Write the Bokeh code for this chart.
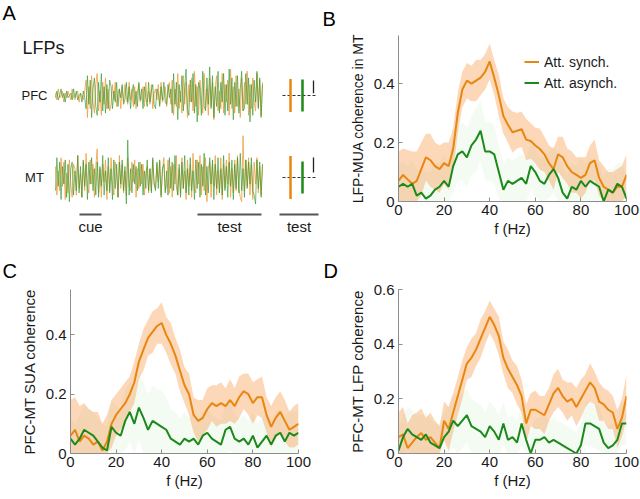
import numpy as np
from bokeh.plotting import figure
from bokeh.layouts import column, row
from bokeh.models import (Range1d, Label, Legend, LegendItem, FixedTicker,
                          CustomJSTickFormatter, Title)
from bokeh.embed import file_html
from bokeh.resources import INLINE

# ---------------- data ----------------
FREQ = list(range(0, 101, 2))

# Panel B: LFP-MUA coherence in MT
B_SYNC = [0.07, 0.09, 0.075, 0.06, 0.07, 0.11, 0.15, 0.14, 0.12, 0.11,
          0.13, 0.12, 0.18, 0.30, 0.38, 0.41, 0.40, 0.41, 0.42, 0.44,
          0.475, 0.42, 0.36, 0.29, 0.26, 0.235, 0.24, 0.245, 0.21, 0.205,
          0.19, 0.178, 0.16, 0.13, 0.11, 0.16, 0.15, 0.12, 0.10, 0.09,
          0.08, 0.09, 0.13, 0.14, 0.08, 0.05, 0.04, 0.03, 0.05, 0.05,
          0.09]
B_ASYNC = [0.05, 0.06, 0.05, 0.06, 0.02, 0.03, 0.01, 0.02, 0.04, 0.05,
           0.07, 0.05, 0.12, 0.16, 0.17, 0.15, 0.19, 0.21, 0.24, 0.17,
           0.17, 0.16, 0.10, 0.04, 0.07, 0.06, 0.07, 0.08, 0.06, 0.12,
           0.10, 0.07, 0.06, 0.09, 0.11, 0.08, 0.03, 0.01, 0.05, 0.04,
           0.07, 0.05, 0.07, 0.06, 0.05, 0.00, 0.04, 0.03, 0.06, 0.05,
           0.01]
B_SYNC_ERR = [0.10, 0.09, 0.10, 0.11, 0.10, 0.09, 0.08, 0.09, 0.08, 0.08,
              0.07, 0.08, 0.07, 0.07, 0.06, 0.06, 0.06, 0.07, 0.06, 0.06,
              0.06, 0.06, 0.07, 0.06, 0.06, 0.07, 0.06, 0.06, 0.07, 0.06,
              0.06, 0.07, 0.06, 0.06, 0.07, 0.06, 0.07, 0.06, 0.07, 0.06,
              0.07, 0.06, 0.06, 0.07, 0.06, 0.07, 0.06, 0.07, 0.06, 0.07,
              0.07]
B_ASYNC_ERR = [0.07, 0.08, 0.07, 0.08, 0.09, 0.08, 0.09, 0.08, 0.09, 0.08,
               0.09, 0.08, 0.09, 0.09, 0.10, 0.10, 0.10, 0.11, 0.10, 0.10,
               0.10, 0.10, 0.09, 0.09, 0.08, 0.08, 0.08, 0.08, 0.09, 0.08,
               0.08, 0.08, 0.09, 0.08, 0.08, 0.08, 0.09, 0.08, 0.08, 0.08,
               0.08, 0.08, 0.08, 0.07, 0.08, 0.08, 0.07, 0.08, 0.07, 0.08,
               0.08]

# Panel C: PFC-MT SUA coherence
C_SYNC = [0.06, 0.08, 0.04, 0.06, 0.05, 0.03, 0.04, 0.01, 0.04, 0.10,
          0.13, 0.15, 0.17, 0.20, 0.24, 0.31, 0.35, 0.39, 0.41, 0.43,
          0.44, 0.40, 0.37, 0.33, 0.28, 0.23, 0.20, 0.13, 0.11, 0.12,
          0.15, 0.17, 0.16, 0.17, 0.16, 0.18, 0.16, 0.19, 0.21, 0.20,
          0.17, 0.19, 0.19, 0.13, 0.09, 0.12, 0.14, 0.11, 0.08, 0.09,
          0.10]
C_ASYNC = [0.05, 0.03, 0.05, 0.08, 0.07, 0.06, 0.04, 0.02, 0.01, 0.09,
           0.07, 0.06, 0.11, 0.14, 0.10, 0.155, 0.12, 0.08, 0.11, 0.10,
           0.09, 0.08, 0.05, 0.04, 0.03, 0.05, 0.04, 0.05, 0.03, 0.06,
           0.07, 0.05, 0.04, 0.03, 0.08, 0.09, 0.05, 0.04, 0.05, 0.03,
           0.06, 0.02, 0.04, 0.06, 0.03, 0.06, 0.07, 0.04, 0.07, 0.06,
           0.07]
C_SYNC_ERR = [0.12, 0.11, 0.12, 0.11, 0.10, 0.11, 0.10, 0.09, 0.09, 0.08,
              0.07, 0.07, 0.07, 0.06, 0.07, 0.06, 0.07, 0.06, 0.07, 0.06,
              0.07, 0.06, 0.07, 0.06, 0.07, 0.06, 0.07, 0.06, 0.07, 0.06,
              0.07, 0.06, 0.07, 0.07, 0.06, 0.07, 0.06, 0.07, 0.06, 0.07,
              0.07, 0.06, 0.07, 0.06, 0.07, 0.07, 0.07, 0.07, 0.06, 0.07,
              0.07]
C_ASYNC_ERR = [0.07, 0.07, 0.08, 0.08, 0.08, 0.08, 0.08, 0.08, 0.08, 0.09,
               0.09, 0.09, 0.10, 0.10, 0.11, 0.11, 0.12, 0.12, 0.12, 0.12,
               0.12, 0.11, 0.10, 0.10, 0.09, 0.09, 0.08, 0.08, 0.08, 0.08,
               0.08, 0.08, 0.08, 0.08, 0.08, 0.08, 0.08, 0.08, 0.08, 0.08,
               0.08, 0.08, 0.08, 0.08, 0.08, 0.08, 0.08, 0.08, 0.08, 0.08,
               0.08]

# Panel D: PFC-MT LFP coherence
D_SYNC = [0.06, 0.07, 0.02, 0.04, 0.06, 0.075, 0.05, 0.06, 0.04, 0.02,
          0.12, 0.09, 0.15, 0.21, 0.27, 0.33, 0.35, 0.38, 0.42, 0.46,
          0.50, 0.47, 0.43, 0.35, 0.31, 0.28, 0.25, 0.21, 0.11, 0.16,
          0.16, 0.15, 0.14, 0.18, 0.22, 0.24, 0.21, 0.19, 0.20, 0.17,
          0.20, 0.23, 0.26, 0.24, 0.19, 0.18, 0.16, 0.15, 0.09, 0.13,
          0.21]
D_ASYNC = [0.01, 0.06, 0.09, 0.07, 0.06, 0.05, 0.07, 0.04, 0.03, 0.02,
           0.06, 0.08, 0.12, 0.10, 0.12, 0.14, 0.10, 0.09, 0.08, 0.06,
           0.10, 0.08, 0.05, 0.11, 0.05, 0.06, 0.04, 0.11, 0.05, 0.00,
           0.05, 0.05, 0.06, 0.04, 0.05, 0.04, 0.03, 0.02, 0.01, 0.00,
           0.03, 0.11, 0.11, 0.10, 0.09, 0.04, 0.02, 0.03, 0.05, 0.11,
           0.11]
D_SYNC_ERR = [0.09, 0.10, 0.09, 0.10, 0.09, 0.09, 0.08, 0.09, 0.08, 0.08,
              0.07, 0.08, 0.07, 0.07, 0.07, 0.06, 0.07, 0.06, 0.07, 0.06,
              0.06, 0.06, 0.07, 0.06, 0.07, 0.06, 0.07, 0.06, 0.07, 0.06,
              0.07, 0.06, 0.07, 0.06, 0.07, 0.07, 0.06, 0.07, 0.06, 0.07,
              0.07, 0.06, 0.07, 0.06, 0.07, 0.06, 0.07, 0.06, 0.07, 0.07,
              0.08]
D_ASYNC_ERR = [0.08, 0.08, 0.08, 0.09, 0.08, 0.09, 0.08, 0.09, 0.08, 0.09,
               0.09, 0.10, 0.10, 0.10, 0.10, 0.10, 0.10, 0.10, 0.10, 0.09,
               0.09, 0.09, 0.09, 0.08, 0.08, 0.08, 0.08, 0.08, 0.08, 0.08,
               0.08, 0.08, 0.08, 0.08, 0.08, 0.08, 0.08, 0.08, 0.08, 0.08,
               0.08, 0.08, 0.08, 0.08, 0.08, 0.08, 0.08, 0.08, 0.08, 0.08,
               0.08]

# Panel A: example LFP traces (arbitrary units, positive = up)
TRACE_DURATION = 2.07  # s
CUE = [0.24, 0.46]
TEST = [1.42, 2.06]
PFC_SYNCH = [1, -2, 3, -1, 0, 2, -3, 1, -1, 2, 0, -2, 3, -1, -2, 1, 2, -3, 1, 0, -2, 2,
             7, -10, 4, -6, 9, -3, -8, 5, 10, -7, 2, -9, 6, -4, 8, -6, 3, -7,
             -4, 5, -2, 6, -5, 1, 3, -6, 4, -3, 5, -1, -4, 6, -2, 3, -5, 4, -6, 2,
             5, -3, -1, 4, -5, 6, -3, 2, -4, 5, -6, 1, 3, -2, 5, -4, 6, -3, -1, 4,
             -5, 2, 6, -4,
             7, -9, 3, -5, 10, -6, 2, -8, 9, -4, 6, -10, 5, -3, 8, -7, 11, -5, 4, -9,
             7, -2, -8, 10, -6, 3, -9, 8, -5, 6, -11, 4, 9, -7, 2, -6, 10, -8, 5, -3,
             7, -9, 12, -6, 4, -8, 9, -5, 3, -10, 8, -7, 6, -4, 11, -9, 5, -6, 8, -3,
             -7, 10, -5, 7, -9, 6]
PFC_ASYNCH = [-1, 2, -2, 0, 3, -1, 1, -3, 2, -1, 0, 1, -2, 3, -1, 2, -2, 0, 1, -3, 2, -1,
              -6, 9, -4, 7, -10, 3, 8, -5, -9, 6, -3, 10, -7, 4, -8, 5, -6, 7,
              4, -6, 2, -3, 6, -5, 3, -1, 5, -4, -2, 6, -3, 4, -6, 1, 5, -4, 2, -5,
              6, -2, 3, -6, 4, -1, -5, 6, -3, 2, 5, -4, -6, 3, 1, -5, 4, -2, 6, -3,
              -4, 5, -1, 3,
              -8, 10, -4, 6, -11, 5, -3, 9, -7, 4, 12, -6, -9, 7, -3, 10, -8, 5, -12, 6,
              3, -9, 11, -5, -7, 8, -4, 13, -6, 9, -10, 4, -5, 11, -8, 6, -3, 10, -9, 5,
              -7, 12, -4, 8, -11, 6, -5, 9, -8, 3, 11, -7, -6, 10, -4, 8, -12, 5, -9, 7,
              -3, 11, -6, 8, -10, 5]
MT_SYNCH = [5, -8, 3, -6, 9, -4, 7, -10, 2, -7, 8, -3, -9, 6, 4, -8, 10, -5, 2, -9,
            7, -6, 11, -4, -7, 8, -3, 6, -9, 5,
            13, -7, 4, -9, 6, -2, 8, -10, 5, -6, 9, -3, -8, 7, 2, -9, 10, -5, 6, -7,
            3, -8, 9, -4, -6, 7, -2, 8, -9, 4,
            -5, 7, -3, 6, -8, 2, 5, -7, 4, -6, 8, -3, -5, 6, -2, 7, -8, 3, 9, -6,
            -4, 8, -7, 5, -9, 6, -3, 10, -8, 4,
            -7, 9, -5, 3, -10, 8, -4, 6, -9, 11, -5, -7, 8, -3, 10, -8, 5, -6, 9, -11,
            4, 7, -9, 6, -4, 10, -8, 3, -7, 9,
            -10, 6, -5, 8, -3, 11, -9, 4, -7, 8, -6, 10, -5, -9, -11, 19, -6, 8, -4, 9,
            -8, 6, -10, 7, -3, 9, -7, 5, -8, 6]
MT_ASYNCH = [-6, 9, -4, 7, -10, 5, -3, 8, -9, 6, -11, 4, 7, -8, 3, -6, 10, -7, 5, -9,
             8, -4, 6, -10, 7, -3, 9, -6, 4, -8,
             7, -9, 5, -4, 10, -8, 3, -6, 9, -7, 4, -10, 8, -5, 6, -9, 7, -3, 8, -6,
             5, -12, 17, -8, 4, -7, 6, -3, 5, -6,
             7, -4, 6, -8, 3, -5, 8, -6, 4, -7, 9, -3, -6, 7, -5, 8, -9, 4, 6, -7,
             3, -8, 9, -5, 7, -6, 10, -4, -8, 6,
             -9, 7, -5, 10, -7, 4, -8, 9, -6, 3, -10, 8, -5, 7, -9, 6, -4, 11, -8, 5,
             -7, 9, -3, 8, -10, 6, -5, 9, -7, 4,
             -8, 10, -6, 5, -9, 7, -4, 8, -10, 6, -5, 9, -7, 11, -6, 4, -9, 8, -5, 7,
             -3, 9, -6, -8, -12, 8, -5, 7, -9, 6]
# test-period spread (same units) for the bars on the right
PFC_TEST_SPREAD = [7.5, 7.3]
MT_TEST_SPREAD = [9.8, 7.3]
PFC_SCALE = [1.0, 6.8]
MT_SCALE = [2.3, 9.1]

# ---------------- style ----------------
ORANGE = "#E8860F"
GREEN = "#1B8A1B"
ORANGE_BAND = "#F8A055"
GREEN_BAND = "#66CC66"
FONT = "Liberation Sans"
AXIS_GREY = "#8c8c8c"
TEXT = "#1a1a1a"


def style_axes(p, ylabel, ylabel_size):
    p.xaxis.ticker = FixedTicker(ticks=[0, 20, 40, 60, 80, 100])
    p.yaxis.formatter = CustomJSTickFormatter(
        code="return tick == 0 ? '0' : tick.toFixed(1);")
    for ax in (p.xaxis[0], p.yaxis[0]):
        ax.axis_line_color = AXIS_GREY
        ax.major_tick_line_color = AXIS_GREY
        ax.minor_tick_line_color = None
        ax.major_tick_in = 4
        ax.major_tick_out = 0
        ax.major_label_text_font = FONT
        ax.major_label_text_font_size = "15px"
        ax.major_label_text_color = TEXT
        ax.axis_label_text_font = FONT
        ax.axis_label_text_font_style = "normal"
        ax.axis_label_text_color = TEXT
    p.xaxis.axis_label = "f (Hz)"
    p.xaxis.axis_label_text_font_size = "15px"
    p.xaxis.major_label_standoff = 3
    p.xaxis.axis_label_standoff = 2
    p.yaxis.axis_label = ylabel
    p.yaxis.axis_label_text_font_size = ylabel_size
    p.yaxis.major_label_standoff = 4
    p.yaxis.axis_label_standoff = 5
    p.grid.visible = False
    p.outline_line_color = None


def coh_panel(w, h, left, right, top, bottom, ymax, yticks, ylabel, ylabel_size,
              sync, asyn, sync_err, asyn_err, letter, letter_offset, letter_standoff):
    title = Title(text=letter, align="left", offset=letter_offset,
                  standoff=letter_standoff, text_font=FONT,
                  text_font_size="20px", text_font_style="normal",
                  text_color="#000000")
    p = figure(width=w, height=h, output_backend="svg", toolbar_location=None,
               x_range=Range1d(0, 100), y_range=Range1d(0, ymax),
               min_border_left=left, min_border_right=right,
               min_border_top=top, min_border_bottom=bottom, title=title)
    p.frame_align = False
    s, a = np.array(sync), np.array(asyn)
    se, ae = np.array(sync_err), np.array(asyn_err)
    p.varea(x=FREQ, y1=np.clip(a - ae, 0, None), y2=a + ae,
            fill_color=GREEN_BAND, fill_alpha=0.08)
    p.varea(x=FREQ, y1=np.clip(s - se, 0, None), y2=s + se,
            fill_color=ORANGE_BAND, fill_alpha=0.42)
    rs = p.line(FREQ, sync, line_color=ORANGE, line_width=2)
    ra = p.line(FREQ, asyn, line_color=GREEN, line_width=2)
    p.yaxis.ticker = FixedTicker(ticks=yticks)
    style_axes(p, ylabel, ylabel_size)
    return p, rs, ra


# ---------------- panel A ----------------
pa = figure(width=320, height=250, output_backend="svg", toolbar_location=None,
            x_range=Range1d(-0.55, 2.65), y_range=Range1d(0, 250),
            x_axis_type=None, y_axis_type=None, min_border=0)
pa.frame_align = False
pa.grid.visible = False
pa.outline_line_color = None

AMP = 2.2
rows = [("PFC", 155, PFC_SYNCH, PFC_ASYNCH, PFC_TEST_SPREAD, PFC_SCALE),
        ("MT", 73, MT_SYNCH, MT_ASYNCH, MT_TEST_SPREAD, MT_SCALE)]
for name, base, tr_s, tr_a, spread, scale in rows:
    ts = np.linspace(0, TRACE_DURATION, len(tr_s))
    ta = np.linspace(0, TRACE_DURATION, len(tr_a))
    pa.line(ts, base + AMP * np.array(tr_s), line_color="#F0A040",
            line_width=0.9, line_alpha=0.9)
    pa.line(ta, base + AMP * np.array(tr_a), line_color="#2E962A",
            line_width=0.9, line_alpha=0.7)
    pa.add_layout(Label(x=-0.21, y=base, text=name, text_font=FONT,
                        text_font_size="13px", text_color=TEXT,
                        text_align="center", text_baseline="middle"))
    pa.segment(x0=[2.27], y0=[base], x1=[2.60], y1=[base], line_color="#333333",
               line_width=1, line_dash="3 2")
    pa.segment(x0=[2.35], y0=[base - AMP * spread[0]], x1=[2.35],
               y1=[base + AMP * spread[0]], line_color=ORANGE, line_width=2.5)
    pa.segment(x0=[2.47], y0=[base - AMP * spread[1]], x1=[2.47],
               y1=[base + AMP * spread[1]], line_color=GREEN, line_width=2.5)
    pa.segment(x0=[2.58], y0=[base + AMP * scale[0]], x1=[2.58],
               y1=[base + AMP * scale[1]], line_color="#222222", line_width=1.3)

pa.add_layout(Label(x=-0.33, y=203, text="LFPs", text_font=FONT,
                    text_font_size="18px", text_color=TEXT,
                    text_align="left", text_baseline="middle"))
pa.add_layout(Label(x=-0.53, y=249, text="A", text_font=FONT,
                    text_font_size="20px", text_color="#000000",
                    text_align="left", text_baseline="top"))
periods = [("cue", CUE), ("test", TEST), ("test", [2.24, 2.63])]
for lab, (t0, t1) in periods:
    pa.segment(x0=[t0], y0=[36], x1=[t1], y1=[36], line_color="#555555",
               line_width=2)
    pa.add_layout(Label(x=(t0 + t1) / 2, y=24, text=lab, text_font=FONT,
                        text_font_size="15px", text_color=TEXT,
                        text_align="center", text_baseline="middle"))

# ---------------- panels B, C, D ----------------
pb, rbs, rba = coh_panel(320, 250, 78, 14, 33, 49, 0.563, [0, 0.2, 0.4],
                         "LFP-MUA coherence in MT", "14px",
                         B_SYNC, B_ASYNC, B_SYNC_ERR, B_ASYNC_ERR, "B", -76, 11)
legend = Legend(items=[LegendItem(label="Att. synch.", renderers=[rbs]),
                       LegendItem(label="Att. asynch.", renderers=[rba])],
                location=(126, 110), border_line_color=None,
                background_fill_alpha=0, label_text_font=FONT,
                label_text_font_size="14px", label_text_color=TEXT,
                glyph_width=15, glyph_height=17, label_height=17,
                spacing=4, padding=0, margin=0, label_standoff=5)
pb.add_layout(legend)

pc, _, _ = coh_panel(320, 248, 70, 22, 37, 45, 0.553, [0, 0.2, 0.4],
                     "PFC-MT SUA coherence", "15px",
                     C_SYNC, C_ASYNC, C_SYNC_ERR, C_ASYNC_ERR, "C", -68, 15)
pd, _, _ = coh_panel(320, 248, 78, 14, 37, 45, 0.6, [0, 0.2, 0.4, 0.6],
                     "PFC-MT LFP coherence", "15px",
                     D_SYNC, D_ASYNC, D_SYNC_ERR, D_ASYNC_ERR, "D", -75, 15)

layout = column(row(pa, pb, spacing=0), row(pc, pd, spacing=0), spacing=0)
open("out.html", "w").write(file_html(layout, INLINE))
